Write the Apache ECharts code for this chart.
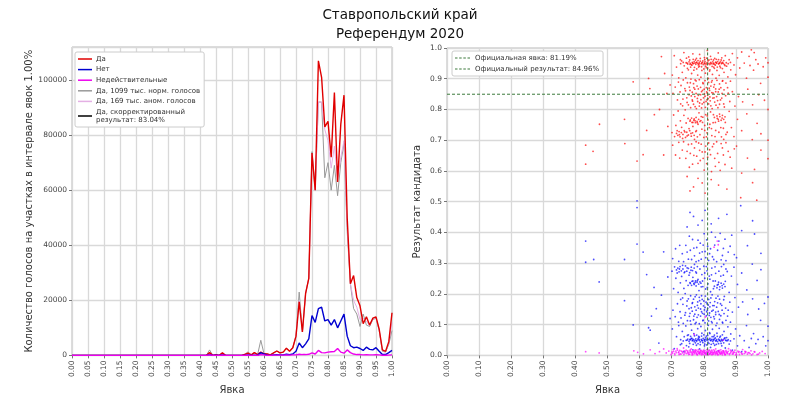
<!DOCTYPE html>
<html><head><meta charset="utf-8">
<script src="https://cdn.jsdelivr.net/npm/echarts@6/dist/echarts.min.js"></script>
<style>html,body{margin:0;padding:0;background:#fff}#c{width:800px;height:400px}</style>
</head><body><div id="c"></div>
<script>
const turnout = [0.00,0.01,0.02,0.03,0.04,0.05,0.06,0.07,0.08,0.09,0.10,0.11,0.12,0.13,0.14,0.15,0.16,0.17,0.18,0.19,0.20,0.21,0.22,0.23,0.24,0.25,0.26,0.27,0.28,0.29,0.30,0.31,0.32,0.33,0.34,0.35,0.36,0.37,0.38,0.39,0.40,0.41,0.42,0.43,0.44,0.45,0.46,0.47,0.48,0.49,0.50,0.51,0.52,0.53,0.54,0.55,0.56,0.57,0.58,0.59,0.60,0.61,0.62,0.63,0.64,0.65,0.66,0.67,0.68,0.69,0.70,0.71,0.72,0.73,0.74,0.75,0.76,0.77,0.78,0.79,0.80,0.81,0.82,0.83,0.84,0.85,0.86,0.87,0.88,0.89,0.90,0.91,0.92,0.93,0.94,0.95,0.96,0.97,0.98,0.99,1.00];
// 0.00 .. 0.42 are zero for all series (43 values), then 0.43 .. 1.00
const yesVotes = [0,0,0,0,0,0,0,0,0,0,0,0,0,0,0,0,0,0,0,0,0,0,0,0,0,0,0,0,0,0,0,0,0,0,0,0,0,0,0,0,0,0,0,
 1000,0,300,0,900,0,0,0,0,0,0,400,800,200,1000,300,1200,600,500,200,900,1600,900,1200,2600,1500,2800,
 7000,19500,8500,22500,28000,73500,60000,107000,101000,83000,85000,72000,95500,63000,84000,94500,50000,26000,29000,21000,18000,11500,14000,11000,13500,14000,9500,2000,1500,5000,15500];
const noVotes = [0,0,0,0,0,0,0,0,0,0,0,0,0,0,0,0,0,0,0,0,0,0,0,0,0,0,0,0,0,0,0,0,0,0,0,0,0,0,0,0,0,0,0,
 300,0,100,0,200,0,0,0,0,0,0,0,200,0,100,0,1000,500,100,0,200,300,200,200,400,300,500,
 1500,4500,2800,4200,6000,14500,12000,17000,17500,12500,13000,11000,13000,10000,12500,15000,7000,3500,2800,3000,2500,1800,3000,2200,2000,2800,1500,300,300,1000,1800];
const invalidVotes = [0,0,0,0,0,0,0,0,0,0,0,0,0,0,0,0,0,0,0,0,0,0,0,0,0,0,0,0,0,0,0,0,0,0,0,0,0,0,0,0,0,0,0,
 200,0,0,0,100,0,0,0,0,0,0,0,100,0,0,0,300,200,0,0,100,100,100,100,200,100,200,
 200,400,300,300,400,900,500,1800,1000,900,1200,1300,1400,2500,1200,800,2000,1000,500,300,300,200,300,200,200,300,200,50,50,100,200];
const yesNormal = [0,0,0,0,0,0,0,0,0,0,0,0,0,0,0,0,0,0,0,0,0,0,0,0,0,0,0,0,0,0,0,0,0,0,0,0,0,0,0,0,0,0,0,
 2000,0,300,0,900,0,0,0,0,0,0,400,1300,200,1000,300,5500,600,500,200,900,1600,900,1200,2600,1500,2800,
 7000,23000,8500,22500,28000,74000,60000,92000,92000,64500,70000,60000,69000,58000,70000,77000,45000,26000,17000,15000,10500,15000,11000,10500,13000,13500,9000,1500,1200,4000,9000];
const yesAnomal = [0,0,0,0,0,0,0,0,0,0,0,0,0,0,0,0,0,0,0,0,0,0,0,0,0,0,0,0,0,0,0,0,0,0,0,0,0,0,0,0,0,0,0,
 500,0,300,0,900,0,0,0,0,0,0,400,800,200,1000,300,800,600,500,200,900,1600,900,1200,2600,1500,2800,
 7000,20000,8500,22500,28000,73000,60000,92000,92000,82000,78000,68000,76000,64000,72000,78000,47000,26000,20000,17500,13000,13500,12500,10800,13200,13800,9200,1800,1400,4500,12000];
const yesCorrected = [];

const officialTurnout = 0.8119;
const officialResult = 0.8496;
const correctedResult = 0.8304;

const yesPoints = [
[0.745,0.952],[0.750,0.948],[0.754,0.955],[0.758,0.950],[0.761,0.946],[0.764,0.953],[0.767,0.949],[0.770,0.956],[0.772,0.951],[0.775,0.947],[0.778,0.954],[0.781,0.950],[0.783,0.945],[0.786,0.952],[0.789,0.957],[0.792,0.949],[0.795,0.953],[0.798,0.946],[0.801,0.951],[0.804,0.955],[0.807,0.948],[0.810,0.952],[0.813,0.958],[0.816,0.950],[0.819,0.946],[0.822,0.953],[0.825,0.949],[0.828,0.955],[0.831,0.951],[0.834,0.947],[0.837,0.954],[0.840,0.950],[0.843,0.956],[0.846,0.948],[0.849,0.952],[0.852,0.955],[0.855,0.949],[0.858,0.953],[0.861,0.950],[0.864,0.946],
[0.748,0.951],[0.757,0.947],[0.766,0.951],[0.776,0.952],[0.785,0.948],[0.794,0.951],[0.803,0.949],[0.812,0.947],[0.821,0.950],[0.830,0.948],[0.839,0.952],[0.848,0.950],[0.857,0.951],
[0.731,0.958],[0.739,0.942],[0.746,0.967],[0.752,0.929],[0.756,0.961],[0.759,0.938],[0.763,0.944],[0.767,0.963],[0.771,0.937],[0.774,0.961],[0.778,0.932],[0.782,0.959],[0.786,0.941],[0.789,0.966],[0.793,0.939],[0.797,0.958],[0.800,0.932],[0.803,0.962],[0.806,0.941],[0.809,0.967],[0.812,0.935],[0.816,0.961],[0.819,0.929],[0.823,0.963],[0.826,0.940],[0.830,0.961],[0.833,0.934],[0.836,0.944],[0.839,0.963],[0.842,0.938],[0.846,0.962],[0.850,0.941],[0.854,0.961],[0.858,0.933],[0.862,0.959],[0.866,0.943],[0.870,0.952],[0.876,0.949],[0.883,0.953],[0.728,0.949],[0.736,0.953],
[0.702,0.912],[0.708,0.975],[0.715,0.938],[0.721,0.889],[0.727,0.962],[0.733,0.921],[0.738,0.985],[0.744,0.903],[0.749,0.934],[0.753,0.971],[0.758,0.887],[0.762,0.917],[0.766,0.981],[0.769,0.928],[0.773,0.896],[0.777,0.966],[0.781,0.912],[0.784,0.938],[0.787,0.979],[0.791,0.905],[0.794,0.927],[0.798,0.884],[0.802,0.969],[0.805,0.918],[0.808,0.936],[0.811,0.992],[0.814,0.901],[0.818,0.925],[0.821,0.973],[0.824,0.889],[0.827,0.914],[0.831,0.938],[0.834,0.966],[0.838,0.902],[0.841,0.927],[0.845,0.984],[0.848,0.911],[0.852,0.936],[0.856,0.968],[0.859,0.894],[0.863,0.921],[0.867,0.975],[0.871,0.941],[0.875,0.906],[0.879,0.962],[0.884,0.929],[0.889,0.982],[0.894,0.945],[0.899,0.913],[0.905,0.968],
[0.912,0.935],[0.918,0.987],[0.926,0.951],[0.933,0.902],[0.941,0.973],[0.948,0.994],[0.955,0.928],[0.962,0.962],[0.969,0.948],[0.977,0.885],[0.985,0.939],[0.993,0.968],[1.0,0.952],[1.0,0.905],[0.957,0.985],[0.944,0.943],
[0.722,0.903],[0.729,0.878],[0.736,0.896],[0.743,0.861],[0.749,0.887],[0.755,0.873],[0.760,0.899],[0.764,0.856],[0.768,0.884],[0.772,0.866],[0.776,0.893],[0.779,0.876],[0.783,0.846],[0.786,0.897],[0.790,0.872],[0.793,0.858],[0.797,0.887],[0.801,0.866],[0.804,0.894],[0.808,0.871],[0.811,0.853],[0.815,0.888],[0.818,0.862],[0.822,0.876],[0.826,0.894],[0.829,0.853],[0.833,0.881],[0.837,0.867],[0.841,0.895],[0.845,0.857],[0.849,0.883],[0.853,0.871],[0.858,0.892],[0.863,0.864],[0.869,0.886],[0.876,0.853],[0.883,0.892],
[0.704,0.852],[0.711,0.873],[0.718,0.831],[0.726,0.857],[0.734,0.812],[0.741,0.868],[0.747,0.838],[0.752,0.815],[0.757,0.862],[0.761,0.844],[0.765,0.827],[0.769,0.871],[0.773,0.809],[0.776,0.852],[0.780,0.836],[0.783,0.867],[0.787,0.821],[0.790,0.848],[0.793,0.805],[0.796,0.862],[0.799,0.838],[0.802,0.851],[0.804,0.843],[0.807,0.826],[0.809,0.857],[0.812,0.846],[0.814,0.835],[0.817,0.869],[0.819,0.841],[0.822,0.812],[0.825,0.855],[0.828,0.837],[0.831,0.873],[0.834,0.824],[0.837,0.858],[0.840,0.842],[0.844,0.806],[0.848,0.866],[0.852,0.831],[0.857,0.852],[0.862,0.818],[0.868,0.845],[0.874,0.871],[0.881,0.826],[0.889,0.858],[0.897,0.811],[0.908,0.842],[0.921,0.825],[0.937,0.866],[0.952,0.815],[0.971,0.848],[0.989,0.830],[1.0,0.800],
[0.728,0.818],[0.735,0.834],[0.742,0.799],[0.748,0.823],[0.754,0.848],[0.759,0.806],[0.764,0.831],[0.768,0.817],[0.772,0.842],[0.777,0.803],[0.781,0.826],[0.786,0.811],[0.791,0.832],[0.795,0.818],[0.800,0.823],[0.805,0.807],[0.810,0.832],[0.815,0.818],[0.820,0.828],[0.826,0.803],[0.832,0.838],[0.838,0.814],[0.843,0.829],[0.849,0.817],[0.856,0.837],[0.864,0.808],
[0.701,0.725],[0.706,0.782],[0.709,0.712],[0.713,0.748],[0.717,0.731],[0.720,0.795],[0.724,0.718],[0.727,0.763],[0.731,0.742],[0.734,0.706],[0.738,0.781],[0.741,0.727],[0.745,0.756],[0.748,0.714],[0.751,0.771],[0.754,0.738],[0.757,0.762],[0.760,0.722],[0.763,0.758],[0.766,0.745],[0.769,0.765],[0.771,0.703],[0.774,0.757],[0.777,0.731],[0.779,0.761],[0.782,0.752],[0.785,0.789],[0.788,0.718],[0.791,0.764],[0.794,0.736],[0.797,0.775],[0.800,0.709],[0.803,0.748],[0.806,0.783],[0.810,0.724],[0.813,0.766],[0.817,0.741],[0.821,0.792],[0.825,0.715],[0.829,0.757],[0.833,0.774],[0.837,0.732],[0.841,0.779],[0.845,0.768],[0.849,0.785],[0.853,0.741],[0.857,0.772],[0.862,0.703],[0.867,0.758],[0.873,0.726],[0.879,0.794],[0.886,0.741],[0.894,0.712],[0.905,0.768],[0.918,0.731],[0.934,0.786],[0.951,0.702],[0.966,0.755],[0.978,0.721],[1.0,0.700],
[0.715,0.722],[0.719,0.716],[0.723,0.728],[0.726,0.711],[0.730,0.725],[0.735,0.719],[0.739,0.731],[0.743,0.709],[0.747,0.726],[0.752,0.717],[0.756,0.731],[0.761,0.713],[0.765,0.724],[0.770,0.716],[0.775,0.728],[0.780,0.711],[0.758,0.766],[0.762,0.772],[0.766,0.758],[0.770,0.769],[0.773,0.763],[0.776,0.774],[0.780,0.757],[0.784,0.768],[0.788,0.761],[0.792,0.777],[0.796,0.758],[0.842,0.771],[0.846,0.762],[0.850,0.777],[0.854,0.765],[0.858,0.781],[0.862,0.768],[0.866,0.776],[0.836,0.758],[0.830,0.783],[0.819,0.752],[0.811,0.779],[0.803,0.732],[0.808,0.711],[0.824,0.738],[0.835,0.712],[0.847,0.726],[0.855,0.711],[0.861,0.739],[0.869,0.719],
[0.703,0.684],[0.712,0.652],[0.722,0.693],[0.733,0.668],[0.744,0.641],[0.752,0.686],[0.758,0.657],[0.765,0.622],[0.771,0.675],[0.778,0.648],[0.784,0.691],[0.789,0.634],[0.795,0.662],[0.801,0.603],[0.806,0.681],[0.812,0.645],[0.818,0.669],[0.824,0.598],[0.831,0.688],[0.836,0.615],[0.843,0.657],[0.851,0.602],[0.858,0.675],[0.866,0.621],[0.876,0.664],[0.887,0.609],[0.902,0.681],[0.918,0.593],[0.936,0.642],[0.958,0.605],[0.978,0.668],[1.0,0.640],
[0.725,0.642],[0.737,0.695],[0.748,0.664],[0.755,0.612],[0.762,0.688],[0.769,0.651],[0.776,0.695],[0.782,0.625],[0.787,0.667],[0.792,0.687],[0.798,0.641],[0.804,0.662],[0.809,0.624],[0.815,0.691],[0.821,0.653],[0.827,0.679],[0.834,0.641],[0.840,0.695],[0.847,0.628],[0.854,0.689],[0.861,0.652],[0.869,0.692],[0.882,0.645],[0.895,0.672],
[0.748,0.582],[0.757,0.535],[0.768,0.548],[0.782,0.576],[0.795,0.561],[0.804,0.528],[0.823,0.572],[0.846,0.554],[0.872,0.541],[0.915,0.513],[0.952,0.562],[0.965,0.505],
[0.580,0.890],[0.632,0.868],[0.646,0.783],[0.622,0.732],[0.553,0.768],[0.475,0.752],[0.432,0.684],[0.554,0.689],[0.455,0.664],[0.432,0.622],[0.592,0.632],[0.668,0.972],[0.678,0.917],[0.685,0.852],[0.662,0.800],[0.675,0.652],[0.611,0.653],[0.628,0.901],[0.688,0.745],[0.695,0.880]
];
const noPoints = [
[0.745,0.049],[0.750,0.053],[0.754,0.046],[0.758,0.051],[0.761,0.055],[0.764,0.048],[0.767,0.052],[0.770,0.045],[0.772,0.050],[0.775,0.054],[0.778,0.047],[0.781,0.051],[0.783,0.056],[0.786,0.049],[0.789,0.044],[0.792,0.052],[0.795,0.048],[0.798,0.055],[0.801,0.050],[0.804,0.046],[0.807,0.053],[0.810,0.049],[0.813,0.043],[0.816,0.051],[0.819,0.055],[0.822,0.048],[0.825,0.052],[0.828,0.046],[0.831,0.050],[0.834,0.054],[0.837,0.047],[0.840,0.051],[0.843,0.045],[0.846,0.053],[0.849,0.049],[0.852,0.046],[0.855,0.052],[0.858,0.048],[0.861,0.051],[0.864,0.055],[0.868,0.050],[0.874,0.048],
[0.748,0.050],[0.757,0.052],[0.766,0.049],[0.776,0.048],[0.785,0.052],[0.794,0.049],[0.803,0.051],[0.812,0.053],[0.821,0.050],[0.830,0.052],[0.839,0.048],[0.848,0.050],[0.857,0.049],
[0.731,0.038],[0.739,0.061],[0.746,0.032],[0.752,0.067],[0.756,0.039],[0.759,0.062],[0.763,0.055],[0.767,0.036],[0.771,0.064],[0.774,0.041],[0.778,0.066],[0.782,0.038],[0.786,0.059],[0.789,0.035],[0.793,0.063],[0.797,0.042],[0.800,0.067],[0.803,0.037],[0.806,0.058],[0.809,0.034],[0.812,0.065],[0.816,0.039],[0.819,0.071],[0.823,0.036],[0.826,0.061],[0.830,0.039],[0.833,0.066],[0.836,0.057],[0.839,0.036],[0.842,0.062],[0.846,0.038],[0.850,0.059],[0.854,0.039],[0.858,0.067],[0.862,0.041],[0.866,0.057],[0.870,0.048],[0.876,0.051],[0.883,0.047],[0.728,0.051],[0.736,0.047],
[0.702,0.086],[0.708,0.022],[0.715,0.061],[0.721,0.108],[0.727,0.035],[0.733,0.078],[0.738,0.012],[0.744,0.096],[0.749,0.065],[0.753,0.028],[0.758,0.112],[0.762,0.082],[0.766,0.018],[0.769,0.071],[0.773,0.103],[0.777,0.033],[0.781,0.087],[0.784,0.062],[0.787,0.021],[0.791,0.094],[0.794,0.072],[0.798,0.115],[0.802,0.031],[0.805,0.081],[0.808,0.063],[0.811,0.008],[0.814,0.098],[0.818,0.074],[0.821,0.026],[0.824,0.110],[0.827,0.085],[0.831,0.061],[0.834,0.033],[0.838,0.097],[0.841,0.072],[0.845,0.015],[0.848,0.088],[0.852,0.063],[0.856,0.031],[0.859,0.105],[0.863,0.078],[0.867,0.024],[0.871,0.058],[0.875,0.093],[0.879,0.037],[0.884,0.070],[0.889,0.017],[0.894,0.054],[0.899,0.086],[0.905,0.031],[0.912,0.064],[0.918,0.012],[0.926,0.048],[0.933,0.097],[0.941,0.026],[0.948,0.055],[0.955,0.071],[0.962,0.038],[0.969,0.052],[0.977,0.114],[0.985,0.061],[0.993,0.031],[1.0,0.048],[1.0,0.095],
[0.722,0.097],[0.729,0.122],[0.736,0.104],[0.743,0.139],[0.749,0.113],[0.755,0.127],[0.760,0.101],[0.764,0.144],[0.768,0.116],[0.772,0.134],[0.776,0.107],[0.779,0.124],[0.783,0.154],[0.786,0.103],[0.790,0.128],[0.793,0.142],[0.797,0.113],[0.801,0.134],[0.804,0.106],[0.808,0.129],[0.811,0.147],[0.815,0.112],[0.818,0.138],[0.822,0.124],[0.826,0.106],[0.829,0.147],[0.833,0.119],[0.837,0.133],[0.841,0.105],[0.845,0.143],[0.849,0.117],[0.853,0.129],[0.858,0.108],[0.863,0.136],[0.869,0.114],[0.876,0.147],[0.883,0.108],
[0.704,0.147],[0.711,0.126],[0.718,0.168],[0.726,0.142],[0.734,0.187],[0.741,0.131],[0.747,0.161],[0.752,0.184],[0.757,0.137],[0.761,0.155],[0.765,0.172],[0.769,0.128],[0.773,0.191],[0.776,0.147],[0.780,0.163],[0.783,0.132],[0.787,0.178],[0.790,0.151],[0.793,0.194],[0.796,0.137],[0.799,0.161],[0.802,0.148],[0.804,0.156],[0.807,0.173],[0.809,0.142],[0.812,0.153],[0.814,0.164],[0.817,0.130],[0.819,0.158],[0.822,0.187],[0.825,0.144],[0.828,0.162],[0.831,0.126],[0.834,0.175],[0.837,0.141],[0.840,0.157],[0.844,0.193],[0.848,0.133],[0.852,0.168],[0.857,0.147],[0.862,0.181],[0.868,0.154],[0.874,0.128],[0.881,0.173],[0.889,0.141],[0.897,0.188],[0.908,0.157],[0.921,0.174],[0.937,0.133],[0.952,0.184],[0.971,0.151],[0.989,0.169],[1.0,0.190],
[0.728,0.182],[0.735,0.166],[0.742,0.201],[0.748,0.177],[0.754,0.152],[0.759,0.194],[0.764,0.169],[0.768,0.183],[0.772,0.158],[0.777,0.197],[0.781,0.174],[0.786,0.189],[0.791,0.168],[0.795,0.182],[0.800,0.177],[0.805,0.193],[0.810,0.168],[0.815,0.182],[0.820,0.172],[0.826,0.197],[0.832,0.162],[0.838,0.186],[0.843,0.171],[0.849,0.183],[0.856,0.163],[0.864,0.192],
[0.701,0.274],[0.706,0.217],[0.709,0.288],[0.713,0.251],[0.717,0.268],[0.720,0.205],[0.724,0.281],[0.727,0.236],[0.731,0.257],[0.734,0.293],[0.738,0.218],[0.741,0.272],[0.745,0.243],[0.748,0.285],[0.751,0.228],[0.754,0.261],[0.757,0.237],[0.760,0.277],[0.763,0.241],[0.766,0.254],[0.769,0.234],[0.771,0.296],[0.774,0.242],[0.777,0.268],[0.779,0.238],[0.782,0.247],[0.785,0.211],[0.788,0.281],[0.791,0.235],[0.794,0.263],[0.797,0.224],[0.800,0.290],[0.803,0.251],[0.806,0.216],[0.810,0.275],[0.813,0.233],[0.817,0.258],[0.821,0.207],[0.825,0.284],[0.829,0.242],[0.833,0.225],[0.837,0.267],[0.841,0.220],[0.845,0.231],[0.849,0.214],[0.853,0.258],[0.857,0.227],[0.862,0.296],[0.867,0.241],[0.873,0.273],[0.879,0.205],[0.886,0.258],[0.894,0.287],[0.905,0.231],[0.918,0.268],[0.934,0.213],[0.951,0.297],[0.966,0.244],[0.978,0.279],
[0.715,0.278],[0.719,0.284],[0.723,0.272],[0.726,0.289],[0.730,0.275],[0.735,0.281],[0.739,0.269],[0.743,0.291],[0.747,0.274],[0.752,0.283],[0.756,0.269],[0.761,0.287],[0.765,0.276],[0.770,0.284],[0.775,0.272],[0.780,0.289],[0.758,0.234],[0.762,0.228],[0.766,0.242],[0.770,0.231],[0.773,0.237],[0.776,0.226],[0.780,0.243],[0.784,0.232],[0.788,0.239],[0.792,0.223],[0.796,0.242],[0.842,0.229],[0.846,0.238],[0.850,0.223],[0.854,0.235],[0.858,0.219],[0.862,0.232],[0.866,0.224],[0.836,0.242],[0.830,0.217],[0.819,0.248],[0.811,0.221],[0.803,0.268],[0.808,0.289],[0.824,0.262],[0.835,0.288],[0.847,0.274],[0.855,0.289],[0.861,0.261],[0.869,0.281],
[0.703,0.315],[0.712,0.347],[0.722,0.306],[0.733,0.331],[0.744,0.358],[0.752,0.313],[0.758,0.342],[0.765,0.377],[0.771,0.324],[0.778,0.351],[0.784,0.308],[0.789,0.365],[0.795,0.337],[0.801,0.396],[0.806,0.318],[0.812,0.355],[0.818,0.331],[0.824,0.401],[0.831,0.312],[0.836,0.385],[0.843,0.342],[0.851,0.397],[0.858,0.325],[0.866,0.378],[0.876,0.336],[0.887,0.391],[0.902,0.318],[0.918,0.406],[0.936,0.357],[0.958,0.395],[0.978,0.332],
[0.725,0.358],[0.737,0.305],[0.748,0.336],[0.755,0.388],[0.762,0.312],[0.769,0.349],[0.776,0.305],[0.782,0.375],[0.787,0.333],[0.792,0.313],[0.798,0.359],[0.804,0.338],[0.809,0.376],[0.815,0.309],[0.821,0.347],[0.827,0.321],[0.834,0.359],[0.840,0.305],[0.847,0.372],[0.854,0.311],[0.861,0.348],[0.869,0.308],[0.882,0.355],[0.895,0.328],
[0.748,0.418],[0.757,0.465],[0.768,0.452],[0.782,0.424],[0.795,0.439],[0.804,0.472],[0.823,0.428],[0.846,0.446],[0.872,0.459],[0.915,0.487],[0.952,0.438],
[0.432,0.372],[0.432,0.303],[0.457,0.312],[0.474,0.239],[0.553,0.312],[0.592,0.362],[0.611,0.336],[0.622,0.263],[0.592,0.503],[0.592,0.481],[0.645,0.221],[0.637,0.128],[0.652,0.152],[0.675,0.337],[0.668,0.196],[0.633,0.082],[0.580,0.099],[0.553,0.178],[0.688,0.255],[0.695,0.120],[0.628,0.090],[0.660,0.040]
];
const invalidPoints = [
[0.432,0.012],[0.474,0.008],[0.582,0.015],[0.594,0.010],[0.612,0.005],[0.633,0.018],[0.648,0.006],[0.662,0.012],[0.675,0.021],[0.683,0.008],[0.691,0.014],[0.698,0.003],
[0.701,0.011],[0.705,0.019],[0.709,0.006],[0.713,0.014],[0.717,0.022],[0.721,0.009],[0.725,0.016],[0.729,0.004],[0.733,0.012],[0.737,0.024],[0.741,0.008],[0.745,0.017],[0.749,0.011],[0.753,0.003],[0.757,0.015],[0.761,0.021],[0.765,0.007],[0.769,0.013],[0.773,0.018],[0.777,0.005],[0.781,0.012],[0.785,0.009],[0.789,0.016],[0.793,0.002],[0.797,0.011],[0.801,0.014],[0.805,0.006],[0.809,0.019],[0.813,0.010],[0.817,0.004],[0.821,0.013],[0.825,0.017],[0.829,0.008],[0.833,0.012],[0.837,0.021],[0.841,0.005],[0.845,0.015],[0.849,0.010],[0.853,0.018],[0.857,0.007],[0.861,0.013],[0.865,0.003],[0.869,0.016],[0.873,0.009],[0.877,0.022],[0.881,0.006],[0.885,0.013],[0.889,0.004],[0.893,0.011],[0.897,0.017],[0.901,0.008],[0.906,0.014],[0.911,0.003],[0.916,0.010],[0.921,0.019],[0.926,0.006],[0.931,0.012],[0.936,0.004],[0.941,0.009],[0.947,0.015],[0.953,0.005],[0.959,0.011],[0.966,0.003],[0.974,0.008],[0.982,0.013],[0.991,0.006],
[0.723,0.003],[0.739,0.015],[0.751,0.007],[0.759,0.011],[0.763,0.002],[0.771,0.009],[0.775,0.014],[0.779,0.003],[0.783,0.019],[0.787,0.007],[0.791,0.012],[0.795,0.005],[0.799,0.017],[0.803,0.009],[0.807,0.002],[0.811,0.011],[0.815,0.016],[0.819,0.006],[0.823,0.009],[0.827,0.003],[0.831,0.018],[0.835,0.007],[0.839,0.011],[0.843,0.002],[0.847,0.013],[0.851,0.006],[0.855,0.010],[0.859,0.015],[0.863,0.008],[0.867,0.002],[0.871,0.012],[0.875,0.005],[0.883,0.017],[0.891,0.008],[0.899,0.002],[0.908,0.010],[0.918,0.006],[0.928,0.013],[0.938,0.009],[0.949,0.002],
[0.702,0.007],[0.706,0.013],[0.710,0.002],[0.714,0.009],[0.718,0.017],[0.722,0.011],[0.726,0.005],[0.730,0.014],[0.734,0.008],[0.738,0.003],[0.742,0.012],[0.746,0.006],[0.750,0.015],[0.754,0.010],[0.756,0.004],[0.758,0.018],[0.762,0.008],[0.764,0.013],[0.766,0.003],[0.768,0.010],[0.770,0.015],[0.772,0.005],[0.774,0.011],[0.776,0.017],[0.778,0.008],[0.780,0.002],[0.782,0.014],[0.784,0.006],[0.786,0.011],[0.788,0.004],[0.790,0.009],[0.792,0.016],[0.794,0.007],[0.796,0.013],[0.798,0.003],[0.800,0.010],[0.802,0.006],[0.804,0.015],[0.806,0.009],[0.808,0.004],[0.810,0.013],[0.812,0.007],[0.814,0.002],[0.816,0.011],[0.818,0.017],[0.820,0.005],[0.822,0.010],[0.824,0.003],[0.826,0.013],[0.828,0.008],[0.830,0.004],[0.832,0.010],[0.834,0.015],[0.836,0.003],[0.838,0.008],[0.840,0.013],[0.842,0.006],[0.844,0.010],[0.846,0.003],[0.848,0.016],[0.850,0.008],[0.852,0.004],[0.854,0.012],[0.856,0.006],[0.858,0.002],[0.860,0.010],[0.862,0.015],[0.864,0.006],[0.866,0.011],[0.868,0.004],[0.872,0.008],[0.876,0.013],[0.880,0.003],[0.884,0.009],[0.888,0.014],[0.892,0.005],[0.896,0.010],[0.902,0.003],[0.910,0.012],[0.920,0.004],[0.930,0.009],[0.944,0.006],[0.957,0.012],[0.970,0.004],
[0.832,0.352],[0.842,0.372],[0.845,0.360],[0.805,0.125],[0.770,0.068],[0.860,0.050]
];

const FONT = 'DejaVu Sans';
const pairs = arr => turnout.map((t, i) => [t, arr[i]]);
const labYes = 'Да', labNo = 'Нет', labInv = 'Недействительные';
const labNorm = 'Да, 1099 тыс. норм. голосов';
const labAnom = 'Да, 169 тыс. аном. голосов';
const labCorr = 'Да, скорректированный\nрезультат: ' + (correctedResult * 100).toFixed(2) + '%';
const labTurn = 'Официальная явка: ' + (officialTurnout * 100).toFixed(2) + '%';
const labRes = 'Официальный результат: ' + (officialResult * 100).toFixed(2) + '%';
const dashIcon = 'path://M0,0H3V1H0Z M5,0H8V1H5Z M10,0H13V1H10Z M15,0H18V1H15Z';

const splitLine = {show: true, lineStyle: {color: '#d9d9d9', width: 1.3}};
const axisLabel = {fontSize: 7.5, color: '#444', fontFamily: FONT};
const nameStyle = {fontSize: 10, color: '#333', fontFamily: FONT};

const chart = echarts.init(document.getElementById('c'));
chart.setOption({
  animation: false,
  backgroundColor: '#fff',
  textStyle: {fontFamily: FONT},
  title: {text: 'Ставропольский край\nРеферендум 2020', left: 'center', top: 1,
    textStyle: {fontSize: 13.5, fontWeight: 'normal', color: '#111', lineHeight: 19, fontFamily: FONT}},
  grid: [
    {left: 72, top: 47, width: 320, height: 321, show: true, borderColor: '#bbb', borderWidth: 1},
    {left: 447, top: 48, width: 321, height: 320, show: true, borderColor: '#bbb', borderWidth: 1}
  ],
  xAxis: [
    {gridIndex: 0, type: 'value', min: 0, max: 1, interval: 0.05,
     axisLabel: Object.assign({rotate: 90, margin: 5, formatter: v => v.toFixed(2)}, axisLabel),
     axisLine: {show: false}, axisTick: {show: true, length: 3, lineStyle: {color: '#777'}},
     splitLine, name: 'Явка', nameLocation: 'middle', nameGap: 27, nameTextStyle: nameStyle},
    {gridIndex: 1, type: 'value', min: 0, max: 1, interval: 0.1,
     axisLabel: Object.assign({rotate: 90, margin: 5, formatter: v => v.toFixed(2)}, axisLabel),
     axisLine: {show: false}, axisTick: {show: true, length: 3, lineStyle: {color: '#777'}},
     splitLine, name: 'Явка', nameLocation: 'middle', nameGap: 27, nameTextStyle: nameStyle}
  ],
  yAxis: [
    {gridIndex: 0, type: 'value', min: 0, max: 112000, interval: 20000,
     axisLabel: Object.assign({margin: 5, showMaxLabel: false, formatter: v => String(v)}, axisLabel),
     axisLine: {show: false}, axisTick: {show: true, length: 3, lineStyle: {color: '#777'}},
     splitLine, name: 'Количество голосов на участках в интервале явок 1.00%',
     nameLocation: 'middle', nameGap: 34, nameTextStyle: nameStyle},
    {gridIndex: 1, type: 'value', min: 0, max: 1, interval: 0.1,
     axisLabel: Object.assign({margin: 5, formatter: v => v.toFixed(1)}, axisLabel),
     axisLine: {show: false}, axisTick: {show: true, length: 3, lineStyle: {color: '#777'}},
     splitLine, name: 'Результат кандидата',
     nameLocation: 'middle', nameGap: 25, nameTextStyle: nameStyle}
  ],
  legend: [
    {data: [labYes, labNo, labInv, labNorm, labAnom, labCorr], orient: 'vertical', left: 75, top: 52,
     icon: 'rect', itemWidth: 14, itemHeight: 1.5, itemGap: 2.6, padding: [3, 4, 3, 3],
     backgroundColor: '#fff', borderColor: '#ccc', borderWidth: 1, borderRadius: 2,
     textStyle: {fontSize: 7, color: '#333', lineHeight: 8, fontFamily: FONT, padding: [0, 0, 0, -1]}},
    {data: [{name: labTurn, icon: dashIcon}, {name: labRes, icon: dashIcon}], orient: 'vertical', left: 452, top: 51,
     itemWidth: 15, itemHeight: 1, itemGap: 3, padding: [3, 4, 3, 3],
     backgroundColor: '#fff', borderColor: '#ccc', borderWidth: 1, borderRadius: 2,
     textStyle: {fontSize: 7, color: '#333', lineHeight: 8, fontFamily: FONT}}
  ],
  series: [
    {name: labNorm, type: 'line', xAxisIndex: 0, yAxisIndex: 0, data: pairs(yesNormal), symbol: 'none',
     color: '#999999', lineStyle: {width: 1, color: '#999999'}, z: 2},
    {name: labAnom, type: 'line', xAxisIndex: 0, yAxisIndex: 0, data: pairs(yesAnomal), symbol: 'none',
     color: '#e4b0e4', lineStyle: {width: 1, color: '#e4b0e4'}, z: 2},
    {name: labCorr, type: 'line', xAxisIndex: 0, yAxisIndex: 0, data: yesCorrected, symbol: 'none',
     color: '#000', lineStyle: {width: 1.3, color: '#000'}, z: 2},
    {name: labYes, type: 'line', xAxisIndex: 0, yAxisIndex: 0, data: pairs(yesVotes), symbol: 'none',
     color: '#e00000', lineStyle: {width: 1.4, color: '#e00000'}, z: 3},
    {name: labNo, type: 'line', xAxisIndex: 0, yAxisIndex: 0, data: pairs(noVotes), symbol: 'none',
     color: '#0000d0', lineStyle: {width: 1.4, color: '#0000d0'}, z: 3},
    {name: labInv, type: 'line', xAxisIndex: 0, yAxisIndex: 0, data: pairs(invalidVotes), symbol: 'none',
     color: '#ee00ee', lineStyle: {width: 1.4, color: '#ee00ee'}, z: 3},
    {type: 'scatter', xAxisIndex: 1, yAxisIndex: 1, data: yesPoints, symbolSize: 1.8,
     itemStyle: {color: '#ff0000', opacity: 0.7}, silent: true},
    {type: 'scatter', xAxisIndex: 1, yAxisIndex: 1, data: noPoints, symbolSize: 1.8,
     itemStyle: {color: '#0000ff', opacity: 0.7}, silent: true},
    {type: 'scatter', xAxisIndex: 1, yAxisIndex: 1, data: invalidPoints, symbolSize: 1.8,
     itemStyle: {color: '#ff00ff', opacity: 0.7}, silent: true},
    {name: labTurn, type: 'line', xAxisIndex: 1, yAxisIndex: 1, symbol: 'none',
     data: [[officialTurnout, 0], [officialTurnout, 1]], color: '#3c7a3c',
     lineStyle: {width: 1, type: [3, 2], color: '#3c7a3c'}, z: 4},
    {name: labRes, type: 'line', xAxisIndex: 1, yAxisIndex: 1, symbol: 'none',
     data: [[0, officialResult], [1, officialResult]], color: '#3c7a3c',
     lineStyle: {width: 1, type: [3, 2], color: '#3c7a3c'}, z: 4}
  ]
});
</script></body></html>
